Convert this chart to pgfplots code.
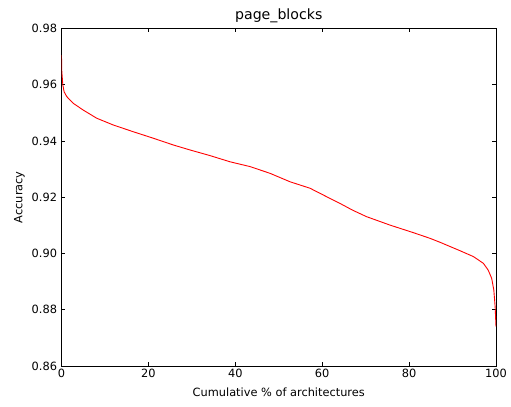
\documentclass[border=0pt]{standalone}
\usepackage{pgfplots}
\pgfplotsset{compat=1.18}
\usepackage{fontspec}
\setmainfont{DejaVu Sans}
\begin{document}
\begin{tikzpicture}[x=1bp,y=1bp]
\begin{axis}[
  scale only axis,
  width=434.5bp, height=337.5bp,
  xmin=0, xmax=100, ymin=0.86, ymax=0.98,
  xtick={0,20,40,60,80,100},
  ytick={0.86,0.88,0.90,0.92,0.94,0.96,0.98},
  tick align=inside,
  major tick length=4bp,
  tick style={black, line width=0.6bp},
  axis line style={black, line width=0.9bp},
  /pgf/number format/assume math mode=true,
  yticklabel style={/pgf/number format/fixed, /pgf/number format/precision=2, /pgf/number format/fixed zerofill, font=\fontsize{11.4}{13}\selectfont, xshift=-1bp},
  xticklabel style={font=\fontsize{11.4}{13}\selectfont},
  scaled y ticks=false,
  title={page\_blocks},
  title style={font=\fontsize{14.2}{16}\selectfont, yshift=-4bp},
  xlabel={Cumulative \% of architectures},
  ylabel={Accuracy},
  xlabel style={font=\fontsize{11.4}{13}\selectfont, yshift=-3bp},
  ylabel style={font=\fontsize{11.4}{13}\selectfont, yshift=0bp},
  clip=true,
]
\addplot[red, line width=0.9bp] coordinates {
(0,0.9705)
(0.05,0.9652)
(0.3,0.9600)
(0.6,0.9575)
(1.2,0.9558)
(2.7,0.9534)
(5.0,0.9510)
(8.1,0.9481)
(11.9,0.9457)
(16.5,0.9433)
(21.1,0.9410)
(25.7,0.9386)
(29.6,0.9368)
(34.2,0.9348)
(38.8,0.9326)
(43.4,0.9309)
(48.0,0.9285)
(52.6,0.9255)
(57.2,0.9232)
(60.5,0.9206)
(64.1,0.9178)
(67.0,0.9154)
(70.2,0.9131)
(75.6,0.9101)
(81.0,0.9074)
(84.8,0.9054)
(87.1,0.9040)
(91.7,0.9010)
(94.8,0.8989)
(97.1,0.8965)
(98.2,0.8941)
(99.0,0.8912)
(99.5,0.8870)
(99.8,0.8811)
(100,0.874)
};
\end{axis}
\path (current axis.south west)+(-61.5bp,-41bp) coordinate (bl);
\path (current axis.north east)+(15bp,28.5bp) coordinate (tr);
\path (bl) rectangle (tr);
\end{tikzpicture}
\end{document}
